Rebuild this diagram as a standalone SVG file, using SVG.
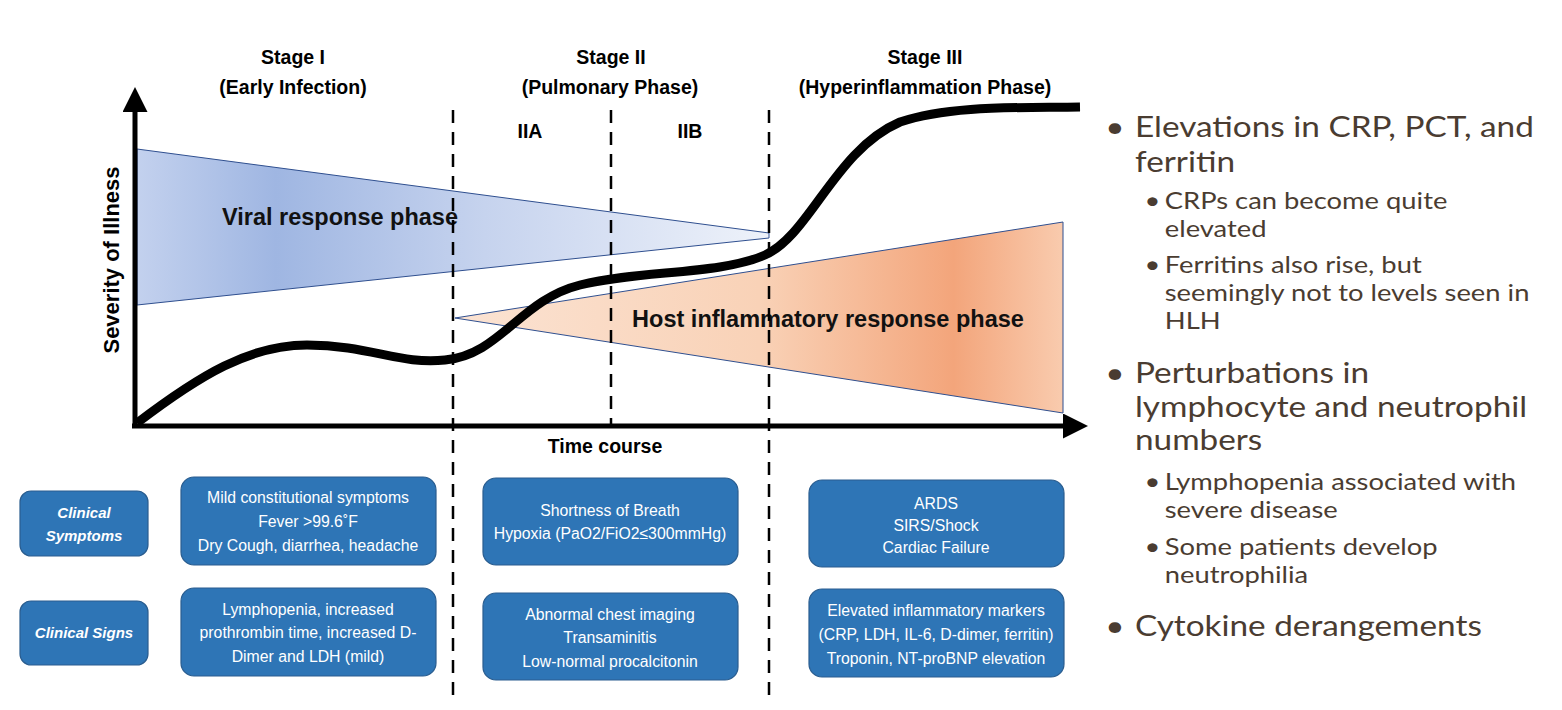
<svg xmlns="http://www.w3.org/2000/svg" width="1562" height="710" viewBox="0 0 1562 710">
<defs>
<linearGradient id="gBlue" gradientUnits="userSpaceOnUse" x1="137" y1="0" x2="769" y2="0">
<stop offset="0" stop-color="#c3d1ee"/>
<stop offset="0.22" stop-color="#9fb6e2"/>
<stop offset="0.55" stop-color="#c6d3ee"/>
<stop offset="1" stop-color="#eef2fa"/>
</linearGradient>
<linearGradient id="gOrange" gradientUnits="userSpaceOnUse" x1="455" y1="0" x2="1063" y2="0">
<stop offset="0" stop-color="#fbe3d3"/>
<stop offset="0.5" stop-color="#f9d2b7"/>
<stop offset="0.82" stop-color="#f3a57b"/>
<stop offset="1" stop-color="#f9cbae"/>
</linearGradient>
<marker id="arr" viewBox="0 0 10 10" refX="2" refY="5" markerWidth="5" markerHeight="5" orient="auto" markerUnits="strokeWidth">
<path d="M0,0 L10,5 L0,10 z" fill="#000"/>
</marker>
<style>
.hd{font-family:"Liberation Sans",Arial,sans-serif;font-weight:bold;font-size:19.5px;fill:#000;text-anchor:middle}
.big{font-family:"Liberation Sans",Arial,sans-serif;font-weight:bold;font-size:23.5px;fill:#111;text-anchor:middle}
.box{fill:#2e75b6;stroke:#2a5d8f;stroke-width:1.2}
.bt{font-family:"Liberation Sans",Arial,sans-serif;font-size:15.8px;fill:#fff;text-anchor:middle}
.lb{font-family:"Liberation Sans",Arial,sans-serif;font-size:15px;font-weight:bold;font-style:italic;fill:#fff;text-anchor:middle}
.dash{stroke:#000;stroke-width:2.5;stroke-dasharray:13,9;fill:none}
.b1{font-family:Lato,"Open Sans",sans-serif;font-size:28px;fill:#4a3c31}
.b2{font-family:Lato,"Open Sans",sans-serif;font-size:23px;fill:#4a3c31}
</style>
</defs>
<rect width="1562" height="710" fill="#fff"/>

<g id="phases">
<polygon points="137,149 769,233 769,238 137,305" fill="url(#gBlue)" stroke="#2f4f8f" stroke-width="1"/>
<polygon points="455,318 1063,222 1063,413" fill="url(#gOrange)" stroke="#2f4f8f" stroke-width="1"/>
<text class="big" x="340" y="225">Viral response phase</text>
<text class="big" x="828" y="327">Host inflammatory response phase</text>
</g>

<g id="connectors">
<line class="dash" x1="453" y1="110" x2="453" y2="697"/>
<line class="dash" x1="611" y1="110" x2="611" y2="425"/>
<line class="dash" x1="769" y1="110" x2="769" y2="697"/>
<line x1="135" y1="428" x2="135" y2="107" stroke="#000" stroke-width="5" marker-end="url(#arr)"/>
<line x1="132" y1="426" x2="1068" y2="426" stroke="#000" stroke-width="5" marker-end="url(#arr)"/>
<path d="M137,423 C200,375 250,345 307,345 C370,345 400,365 445,360 C500,355 520,300 580,285 C640,270 720,275 765,255 C810,235 835,150 900,122 C950,105 1020,108 1080,107" fill="none" stroke="#000" stroke-width="9"/>
</g>

<g id="headers">
<text class="hd" x="293" y="64">Stage I</text>
<text class="hd" x="293" y="94">(Early Infection)</text>
<text class="hd" x="611" y="64">Stage II</text>
<text class="hd" x="610" y="94">(Pulmonary Phase)</text>
<text class="hd" x="925" y="64">Stage III</text>
<text class="hd" x="925" y="94">(Hyperinflammation Phase)</text>
<text class="hd" x="530" y="138">IIA</text>
<text class="hd" x="690" y="138">IIB</text>
<text class="hd" x="605" y="453">Time course</text>
<text class="hd" style="font-size:22px" transform="translate(119,260) rotate(-90)">Severity of Illness</text>
</g>

<g id="label-symptoms">
<rect class="box" x="20" y="491" width="128" height="65" rx="11"/>
<text class="lb" x="84" y="518">Clinical</text>
<text class="lb" x="84" y="541">Symptoms</text>
</g>
<g id="label-signs">
<rect class="box" x="20" y="601" width="128" height="64" rx="11"/>
<text class="lb" x="84" y="638">Clinical Signs</text>
</g>

<g id="s1-symptoms">
<rect class="box" x="181" y="477" width="255" height="88" rx="13"/>
<text class="bt" x="308" y="503">Mild constitutional symptoms</text>
<text class="bt" x="308" y="527">Fever &gt;99.6˚F</text>
<text class="bt" x="308" y="551">Dry Cough, diarrhea, headache</text>
</g>
<g id="s1-signs">
<rect class="box" x="181" y="588" width="255" height="88" rx="13"/>
<text class="bt" x="308" y="615">Lymphopenia, increased</text>
<text class="bt" x="308" y="638">prothrombin time, increased D-</text>
<text class="bt" x="308" y="662">Dimer and LDH (mild)</text>
</g>
<g id="s2-symptoms">
<rect class="box" x="483" y="478" width="255" height="87" rx="13"/>
<text class="bt" x="610" y="516">Shortness of Breath</text>
<text class="bt" x="610" y="539">Hypoxia (PaO2/FiO2≤300mmHg)</text>
</g>
<g id="s2-signs">
<rect class="box" x="483" y="593" width="255" height="87" rx="13"/>
<text class="bt" x="610" y="620">Abnormal chest imaging</text>
<text class="bt" x="610" y="643">Transaminitis</text>
<text class="bt" x="610" y="667">Low-normal procalcitonin</text>
</g>
<g id="s3-symptoms">
<rect class="box" x="809" y="480" width="255" height="87" rx="13"/>
<text class="bt" x="936" y="509">ARDS</text>
<text class="bt" x="936" y="531">SIRS/Shock</text>
<text class="bt" x="936" y="553">Cardiac Failure</text>
</g>
<g id="s3-signs">
<rect class="box" x="809" y="589" width="255" height="88" rx="13"/>
<text class="bt" x="936" y="616">Elevated inflammatory markers</text>
<text class="bt" x="936" y="640">(CRP, LDH, IL-6, D-dimer, ferritin)</text>
<text class="bt" x="936" y="664">Troponin, NT-proBNP elevation</text>
</g>

<g id="bullets" transform="translate(1135,0) scale(1.19,1)">
<text class="b1" x="-25" y="137">•</text>
<text class="b1" x="0" y="137">Elevations in CRP, PCT, and</text>
<text class="b1" x="0" y="172">ferritin</text>
<text class="b2" x="8" y="209">•</text>
<text class="b2" x="25" y="209">CRPs can become quite</text>
<text class="b2" x="25" y="237">elevated</text>
<text class="b2" x="8" y="273">•</text>
<text class="b2" x="25" y="273">Ferritins also rise, but</text>
<text class="b2" x="25" y="301">seemingly not to levels seen in</text>
<text class="b2" x="25" y="329">HLH</text>
<text class="b1" x="-25" y="383">•</text>
<text class="b1" x="0" y="383">Perturbations in</text>
<text class="b1" x="0" y="417">lymphocyte and neutrophil</text>
<text class="b1" x="0" y="450">numbers</text>
<text class="b2" x="8" y="490">•</text>
<text class="b2" x="25" y="490">Lymphopenia associated with</text>
<text class="b2" x="25" y="518">severe disease</text>
<text class="b2" x="8" y="555">•</text>
<text class="b2" x="25" y="555">Some patients develop</text>
<text class="b2" x="25" y="583">neutrophilia</text>
<text class="b1" x="-25" y="636">•</text>
<text class="b1" x="0" y="636">Cytokine derangements</text>
</g>
</svg>
